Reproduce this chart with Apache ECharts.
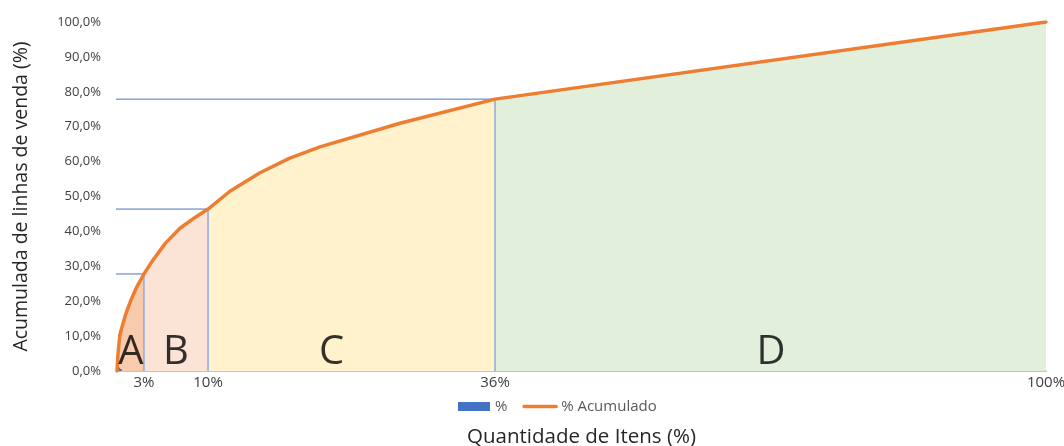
<!DOCTYPE html>
<html>
<head>
<meta charset="utf-8">
<script src="https://cdn.jsdelivr.net/npm/echarts@6/dist/echarts.min.js"></script>
<style>
html,body{margin:0;padding:0;background:#fff;}
#chart{width:1064px;height:446px;}
</style>
</head>
<body>
<div id="chart"></div>
<script>
// Cumulative curve: x = position along item axis (0-100), y = cumulative % of sales lines
const curveX = [0, 0.1, 0.3, 0.9, 1.5, 2.15, 2.9, 3.77, 5.17, 6.78, 8.4, 9.8, 12.16, 15.39, 18.6, 21.85, 30.46, 40.69, 100];
const curveY = [0, 4.6, 10.3, 16, 20.3, 24.2, 27.8, 31.4, 36.5, 40.9, 44, 46.4, 51.5, 56.8, 61, 64.2, 71, 77.9, 100];
// Individual % series (tiny bars near origin)
const pctX = [0.15, 0.35];
const pctY = [1.0, 0.6];
// Class boundaries (axis position) and their tick labels
const boundaryX = [2.9, 9.8, 40.69, 100];
const boundaryLabels = ['3%', '10%', '36%', '100%'];
const boundaryY = [27.8, 46.4, 77.9];
// Class letters and their positions
const classNames = ['A', 'B', 'C', 'D'];
const classLabelX = [1.5, 6.35, 23.1, 70.4];
const classLabelY = [5.3, 5.3, 5.3, 5.3];
const classColors = ['#f8cbad', '#fbe3d6', '#fff2cc', '#e2efda'];

const curve = curveX.map((x, i) => [x, curveY[i]]);
const segBounds = [0, 2.9, 9.8, 40.69, 100];
const areaSeries = classNames.map((n, k) => ({
  type: 'line',
  name: 'area' + n,
  data: curve.filter(p => p[0] >= segBounds[k] - 1e-9 && p[0] <= segBounds[k + 1] + 1e-9),
  symbol: 'none',
  lineStyle: { width: 0 },
  areaStyle: { color: classColors[k], opacity: 1 },
  silent: true,
  z: 1
}));

const guideSeries = [];
boundaryY.forEach((y, i) => {
  guideSeries.push({
    type: 'line', name: 'vg' + i, data: [[boundaryX[i], 0], [boundaryX[i], y]],
    symbol: 'none', lineStyle: { color: '#8faadc', width: 1.5 }, silent: true, z: 3
  });
  guideSeries.push({
    type: 'line', name: 'hg' + i, data: [[-1.3, y], [boundaryX[i], y]], clip: false,
    symbol: 'none', lineStyle: { color: '#4a74c0', width: 1 }, silent: true, z: 3
  });
});

const chart = echarts.init(document.getElementById('chart'));
const font = '"Open Sans", "Noto Sans", sans-serif';
chart.setOption({
  animation: false,
  textStyle: { fontFamily: font },
  grid: { left: 117, right: 18, top: 22, bottom: 75, containLabel: false, outerBoundsMode: 'none' },
  legend: {
    data: [
      { name: '%', icon: 'rect' },
      { name: '% Acumulado', itemStyle: { color: 'rgba(0,0,0,0)', borderWidth: 0 }, lineStyle: { color: '#ed7d31', width: 3.5 } }
    ],
    top: 394, left: 453, itemWidth: 32, itemHeight: 9, itemGap: 15,
    textStyle: { color: '#595959', fontSize: 15, fontFamily: font }
  },
  xAxis: {
    type: 'value', min: 0, max: 100,
    name: 'Quantidade de Itens (%)', nameLocation: 'middle', nameGap: 56,
    nameTextStyle: { fontSize: 20.5, color: '#262626', fontFamily: font },
    axisLine: { show: true, lineStyle: { color: '#b4c7e7', width: 2 } },
    axisTick: { show: false },
    splitLine: { show: false },
    axisLabel: {
      customValues: boundaryX, color: '#404040', fontSize: 15, margin: 4,
      formatter: v => { const i = boundaryX.indexOf(v); return i >= 0 ? boundaryLabels[i] : ''; }
    }
  },
  yAxis: {
    type: 'value', min: 0, max: 100, interval: 10,
    name: 'Acumulada de linhas de venda (%)', nameLocation: 'middle', nameGap: 86,
    nameTextStyle: { fontSize: 19.5, color: '#262626', fontFamily: font },
    axisLine: { show: false }, axisTick: { show: false }, splitLine: { show: false },
    axisLabel: { color: '#404040', fontSize: 13, margin: 16, formatter: v => v.toFixed(1).replace('.', ',') + '%' }
  },
  series: [
    ...areaSeries,
    ...guideSeries,
    {
      type: 'bar', name: '%', data: pctX.map((x, i) => [x, pctY[i]]),
      barWidth: 3, itemStyle: { color: '#4472c4' }, z: 4
    },
    {
      type: 'line', name: '% Acumulado', data: curve,
      symbol: 'none', showSymbol: false, lineStyle: { color: '#ed7d31', width: 3.5, join: 'round', cap: 'round' }, itemStyle: { color: '#ed7d31' }, z: 5
    },
    {
      type: 'scatter', name: 'letters', symbolSize: 0, silent: true, z: 6,
      data: classNames.map((n, i) => ({ value: [classLabelX[i], classLabelY[i]], name: n })),
      label: { show: true, position: 'inside', formatter: p => p.name, color: '#000', fontSize: 40, fontFamily: font }
    }
  ]
});
</script>
</body>
</html>
